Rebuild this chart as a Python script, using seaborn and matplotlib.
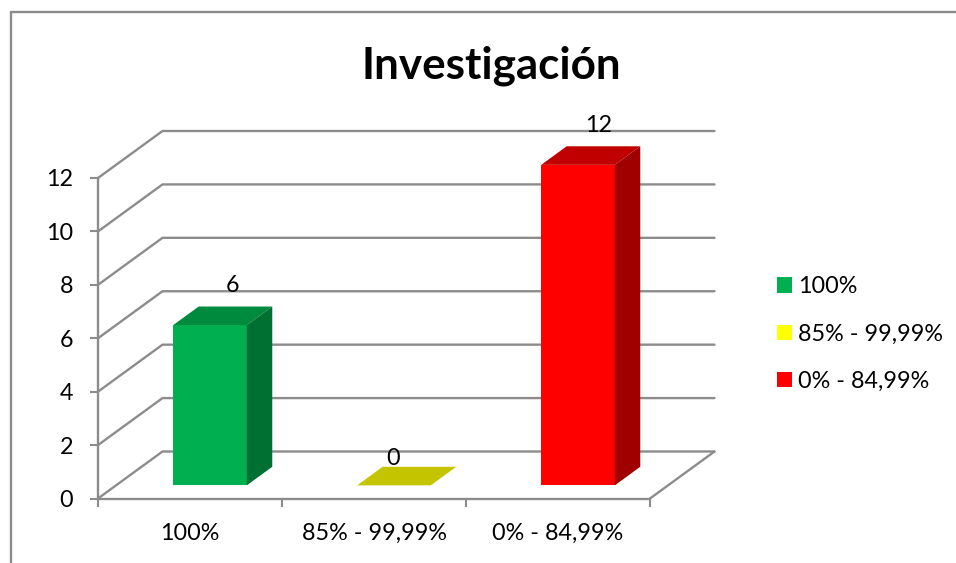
#!/usr/bin/env python3
import matplotlib
matplotlib.use("Agg")
import matplotlib.pyplot as plt
from matplotlib.lines import Line2D
from matplotlib.patches import Patch, Polygon
import seaborn as sns

# Datos
categorias = ['100%', '85% - 99,99%', '0% - 84,99%']
valores = [6, 0, 12]
ticks_y = [0, 2, 4, 6, 8, 10, 12]
titulo = "Investigación"

# Colores de cada cara
color_frente = ['#00B050', '#C4C400', '#FF0000']
color_arriba = ['#008A3E', '#C4C400', '#C00000']
color_lado = ['#006F32', '#C4C400', '#A00000']
color_leyenda = ['#00B050', '#FFFF00', '#FF0000']
gris = '#8C8C8C'

W, H = 956, 563
# Plano frontal del grafico en pixeles
X0, X1, Y0, Y1 = 98, 650, 498.5, 178
PX_X = (X1 - X0) / 3
PX_Y = (Y0 - Y1) / 12

# Profundidad del falso 3D, en unidades de datos
PROF_X = 64.5 / PX_X
PROF_Y = 47 / PX_Y
BARRA_INI_X = 0.31  # fraccion de profundidad donde empieza la barra
BARRA_INI_Y = 0.28
BARRA_FON = 0.395   # fraccion que ocupa la barra

sns.set_theme(style="white")
plt.rcParams['font.family'] = ['Lato', 'DejaVu Sans']
plt.rcParams['text.color'] = '#000000'

fig = plt.figure(figsize=(W / 100, H / 100), dpi=100)
ax = fig.add_axes([X0 / W, 1 - Y0 / H, (X1 - X0) / W, (Y0 - Y1) / H])

sns.barplot(x=categorias, y=valores, hue=categorias, palette=color_frente,
            width=0.4, saturation=1, legend=False, ax=ax, zorder=3, linewidth=0)
ax.set_xlim(-0.5, 2.5)
ax.set_ylim(0, 12)

# Lineas de la cuadricula: suben por la pared lateral y siguen por el fondo
for v in ticks_y:
    ax.plot([-0.5, -0.5 + PROF_X, 2.5 + PROF_X], [v, v + PROF_Y, v + PROF_Y],
            color=gris, lw=1.7, clip_on=False, zorder=1, solid_joinstyle='miter')
# Borde derecho del suelo
ax.plot([2.5, 2.5 + PROF_X], [0, PROF_Y], color=gris, lw=1.7, clip_on=False, zorder=1)

# Caras de las barras
etiqueta_dx = [-3, -26, -5]
etiqueta_dy = [21, 8, 21]
for i, barra in enumerate(list(ax.patches)):
    dx = PROF_X * BARRA_INI_X
    dy = PROF_Y * BARRA_INI_Y
    barra.set_x(barra.get_x() + dx)
    barra.set_y(barra.get_y() + dy)
    barra.set_clip_on(False)
    x0 = barra.get_x()
    x1 = x0 + barra.get_width()
    y0 = barra.get_y()
    y1 = y0 + barra.get_height()
    fx = PROF_X * BARRA_FON
    fy = PROF_Y * BARRA_FON
    ax.add_patch(Polygon([(x0, y1), (x1, y1), (x1 + fx, y1 + fy), (x0 + fx, y1 + fy)],
                         facecolor=color_arriba[i], edgecolor='none', clip_on=False, zorder=3))
    if valores[i] > 0:
        ax.add_patch(Polygon([(x1, y0), (x1 + fx, y0 + fy), (x1 + fx, y1 + fy), (x1, y1)],
                             facecolor=color_lado[i], edgecolor='none', clip_on=False, zorder=3))
    # Etiqueta de valor
    ax.annotate(str(valores[i]), xy=(i + dx + fx, y1 + fy),
                xytext=(etiqueta_dx[i] * 0.72, etiqueta_dy[i] * 0.72),
                textcoords='offset points', ha='center', va='center', fontsize=16.8,
                annotation_clip=False, zorder=5)

# Ejes
for lado in ['top', 'right']:
    ax.spines[lado].set_visible(False)
for lado in ['left', 'bottom']:
    ax.spines[lado].set_color(gris)
    ax.spines[lado].set_linewidth(1.7)
ax.patch.set_alpha(0)

ax.set_yticks(ticks_y)
ax.set_yticklabels([str(v) for v in ticks_y])
ax.tick_params(axis='y', length=6, width=1.5, color=gris, labelsize=16.8, pad=12,
               left=True, labelcolor='black')
ax.set_xticks([-0.5, 0.5, 1.5, 2.5])
ax.set_xticklabels([])
ax.set_xticks([0, 1, 2], minor=True)
ax.set_xticklabels(categorias, minor=True)
ax.tick_params(axis='x', which='major', length=6, width=1.5, color=gris, bottom=True)
ax.tick_params(axis='x', which='minor', length=0, labelsize=16.8, pad=17.5, labelcolor='black')
ax.set_xlabel("")
ax.set_ylabel("")

# Titulo
fig.text(491 / W, 1 - 66 / H, titulo, ha='center', va='center', fontsize=31.7, fontweight='bold')

# Leyenda
handles = [Patch(facecolor=c, edgecolor='none', label=l) for c, l in zip(color_leyenda, categorias)]
fig.legend(handles=handles, loc='center left', bbox_to_anchor=(777 / W, 1 - 334 / H), frameon=False,
           fontsize=16.8, handlelength=0.64, handleheight=0.64, handletextpad=0.28, labelspacing=1.13,
           borderpad=0, borderaxespad=0)

# Marco exterior del grafico
fig.add_artist(Line2D([11 / W, 11 / W, 1], [0, 1 - 12 / H, 1 - 12 / H], color=gris, lw=1.7,
                      solid_joinstyle='miter'))

fig.savefig("out.png", dpi=100)
plt.close(fig)
